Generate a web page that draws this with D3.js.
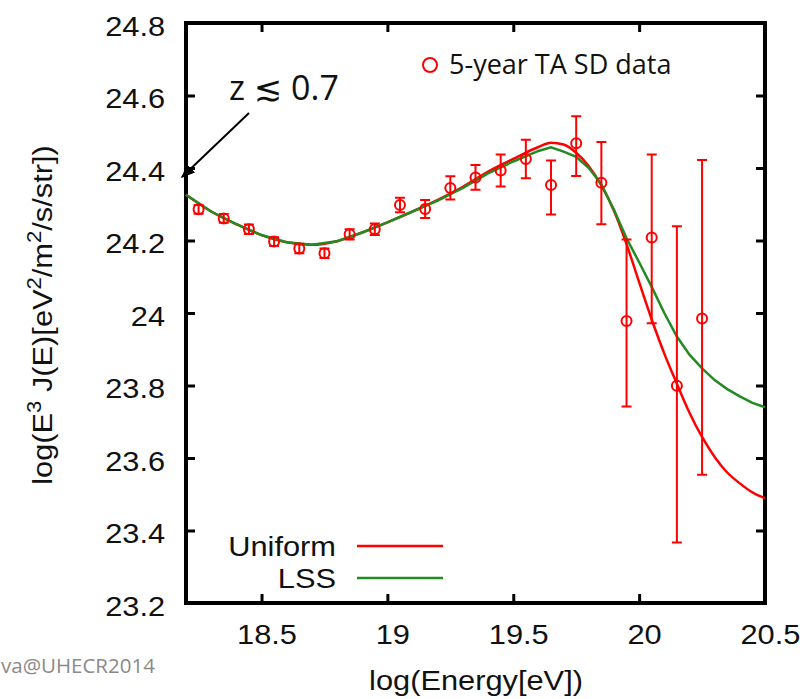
<!DOCTYPE html>
<html>
<head>
<meta charset="utf-8">
<script src="https://cdn.jsdelivr.net/npm/d3@7"></script>
<style>
  body { margin: 0; background: #fff; }
  svg { display: block; }
  .helv { font-family: "Liberation Sans", Arial, sans-serif; }
</style>
</head>
<body>
<svg id="chart" width="809" height="699"></svg>
<script>
// TA SD data points (bin centres, log10 E^3 J(E))
const energy = [18.25, 18.35, 18.45, 18.55, 18.65, 18.75, 18.85, 18.95, 19.05, 19.15,
  19.25, 19.35, 19.45, 19.55, 19.65, 19.75, 19.85, 19.95, 20.05, 20.15, 20.25];
const flux = [24.286, 24.261, 24.231, 24.197, 24.178, 24.165, 24.217, 24.231, 24.298, 24.287,
  24.345, 24.374, 24.393, 24.425, 24.353, 24.468, 24.359, 23.978, 24.208, 23.799, 23.985];
const errLow = [0.012, 0.012, 0.013, 0.012, 0.013, 0.013, 0.014, 0.016, 0.02, 0.025,
  0.032, 0.034, 0.044, 0.053, 0.081, 0.09, 0.114, 0.236, 0.236, 0.432, 0.431];
const errHigh = [0.012, 0.012, 0.013, 0.012, 0.013, 0.013, 0.014, 0.016, 0.02, 0.025,
  0.032, 0.034, 0.044, 0.053, 0.068, 0.075, 0.113, 0.225, 0.229, 0.44, 0.437];

// model curves
const curveX = [18.2, 18.3, 18.4, 18.5, 18.6, 18.7, 18.8, 18.9, 19.0, 19.1, 19.2, 19.3, 19.4,
  19.5, 19.6, 19.65, 19.7, 19.75, 19.8, 19.85, 19.9, 19.95, 20.0, 20.05, 20.1, 20.15, 20.2,
  20.25, 20.3, 20.35, 20.4, 20.45, 20.5];
const uniform = [24.326, 24.28, 24.245, 24.215, 24.195, 24.188, 24.198, 24.222, 24.25, 24.28,
  24.312, 24.348, 24.39, 24.425, 24.458, 24.470, 24.465, 24.442, 24.405, 24.352, 24.282, 24.19,
  24.085, 23.982, 23.888, 23.805, 23.725, 23.658, 23.603, 23.56, 23.53, 23.505, 23.489];
const lss = [24.326, 24.28, 24.245, 24.215, 24.195, 24.188, 24.198, 24.222, 24.25, 24.28,
  24.31, 24.345, 24.385, 24.418, 24.447, 24.457, 24.445, 24.431, 24.40, 24.355, 24.285, 24.206,
  24.14, 24.072, 24.0, 23.935, 23.885, 23.847, 23.815, 23.79, 23.77, 23.752, 23.74];

const xTicks = [18.5, 19, 19.5, 20, 20.5];
const yTicks = [23.2, 23.4, 23.6, 23.8, 24, 24.2, 24.4, 24.6, 24.8];

const RED = "#ff0000";
const GREEN = "#228b22";
const STRETCH = "scale(1.1,1)";

const plotL = 186, plotR = 765, plotT = 23, plotB = 603;
const svg = d3.select("#chart");

const x = d3.scaleLinear().domain([18.2, 20.5]).range([plotL, plotR]);
const y = d3.scaleLinear().domain([23.2, 24.8]).range([plotB, plotT]);
const fmt = (d) => String(+d.toFixed(1));

// axes with inward ticks
svg.append("g")
  .attr("class", "helv")
  .attr("transform", "translate(0," + plotB + ")")
  .call(d3.axisBottom(x).tickValues(xTicks).tickFormat(fmt).tickSizeInner(-9).tickSizeOuter(0).tickPadding(21))
  .call((g) => g.select(".domain").remove())
  .call((g) => g.selectAll("line").attr("stroke-width", 3))
  .call((g) => g.selectAll("text").attr("font-size", 28).attr("fill", "#111")
    .attr("transform", STRETCH).attr("dx", 4.5));

svg.append("g")
  .attr("transform", "translate(0," + plotT + ")")
  .call(d3.axisTop(x).tickValues(xTicks).tickFormat("").tickSizeInner(-9).tickSizeOuter(0))
  .call((g) => g.select(".domain").remove())
  .call((g) => g.selectAll("line").attr("stroke-width", 3));

svg.append("g")
  .attr("class", "helv")
  .attr("transform", "translate(" + plotL + ",0)")
  .call(d3.axisLeft(y).tickValues(yTicks).tickFormat(fmt).tickSizeInner(-9).tickSizeOuter(0).tickPadding(19))
  .call((g) => g.select(".domain").remove())
  .call((g) => g.selectAll("line").attr("stroke-width", 3))
  .call((g) => g.selectAll("text").attr("font-size", 28).attr("fill", "#111")
    .attr("transform", STRETCH).attr("dy", "0.43em"));

svg.append("g")
  .attr("transform", "translate(" + plotR + ",0)")
  .call(d3.axisRight(y).tickValues(yTicks).tickFormat("").tickSizeInner(-9).tickSizeOuter(0))
  .call((g) => g.select(".domain").remove())
  .call((g) => g.selectAll("line").attr("stroke-width", 3));

// frame
svg.append("rect")
  .attr("x", plotL).attr("y", plotT)
  .attr("width", plotR - plotL).attr("height", plotB - plotT)
  .attr("fill", "none").attr("stroke", "#000").attr("stroke-width", 4);

// model curves
const uniLine = d3.line().x((d, i) => x(curveX[i])).y((d) => y(d)).curve(d3.curveMonotoneX);
const lssLine = d3.line().x((d, i) => x(curveX[i])).y((d) => y(d));

svg.append("path").datum(uniform)
  .attr("d", uniLine).attr("fill", "none").attr("stroke", RED).attr("stroke-width", 2.5);
svg.append("path").datum(lss)
  .attr("d", lssLine).attr("fill", "none").attr("stroke", GREEN).attr("stroke-width", 2.5);

// data with error bars
const pts = energy.map((e, i) => ({ e: e, v: flux[i], lo: flux[i] - errLow[i], hi: flux[i] + errHigh[i] }));
const cap = 5;
const bars = svg.append("g").attr("stroke", RED).attr("stroke-width", 2).attr("fill", "none");
bars.selectAll(".eb").data(pts).enter().append("path")
  .attr("d", (d) => {
    const cx = x(d.e), y0 = y(d.lo), y1 = y(d.hi);
    return "M" + cx + "," + y0 + "V" + y1 +
      "M" + (cx - cap) + "," + y1 + "H" + (cx + cap) +
      "M" + (cx - cap) + "," + y0 + "H" + (cx + cap);
  });
bars.selectAll("circle").data(pts).enter().append("circle")
  .attr("cx", (d) => x(d.e)).attr("cy", (d) => y(d.v)).attr("r", 5);

// legend: data
svg.append("circle").attr("cx", 430).attr("cy", 65).attr("r", 7)
  .attr("fill", "none").attr("stroke", RED).attr("stroke-width", 2);
svg.append("text").attr("x", 449).attr("y", 74)
  .attr("font-family", "'Open Sans', sans-serif").attr("font-size", 27).attr("fill", "#111")
  .text("5-year TA SD data");

// legend: models
const models = [{ name: "Uniform", color: RED, yy: 546 }, { name: "LSS", color: GREEN, yy: 578 }];
models.forEach((m) => {
  svg.append("text").attr("class", "helv")
    .attr("x", 336 / 1.1).attr("y", m.yy + 10)
    .attr("transform", STRETCH)
    .attr("text-anchor", "end").attr("font-size", 28).attr("fill", "#111")
    .text(m.name);
  svg.append("line").attr("x1", 357).attr("x2", 443).attr("y1", m.yy).attr("y2", m.yy)
    .attr("stroke", m.color).attr("stroke-width", 2.5);
});

// annotation arrow
svg.append("defs").append("marker")
  .attr("id", "head").attr("viewBox", "0 0 10 10").attr("refX", 9).attr("refY", 5)
  .attr("markerWidth", 14).attr("markerHeight", 14).attr("markerUnits", "userSpaceOnUse")
  .attr("orient", "auto")
  .append("path").attr("d", "M0,1L10,5L0,9z").attr("fill", "#000");
svg.append("line")
  .attr("x1", 249).attr("y1", 113).attr("x2", x(18.2) - 4).attr("y2", y(24.375))
  .attr("stroke", "#000").attr("stroke-width", 2).attr("marker-end", "url(#head)");
svg.append("text").attr("x", 229).attr("y", 100)
  .attr("font-family", "'Open Sans', 'DejaVu Sans', sans-serif").attr("font-size", 34).attr("fill", "#111")
  .text("z \u2272 0.7");

// axis titles
svg.append("text").attr("class", "helv")
  .attr("transform", "translate(476,690) " + STRETCH)
  .attr("text-anchor", "middle").attr("font-size", 28).attr("fill", "#111")
  .text("log(Energy[eV])");

const yl = svg.append("text").attr("class", "helv")
  .attr("transform", "translate(52,315) rotate(-90) " + STRETCH)
  .attr("text-anchor", "middle").attr("font-size", 28).attr("fill", "#111");
yl.append("tspan").text("log(E");
yl.append("tspan").attr("font-size", 20).attr("dy", -11).text("3");
yl.append("tspan").attr("dy", 11).text(" J(E)[eV");
yl.append("tspan").attr("font-size", 20).attr("dy", -11).text("2");
yl.append("tspan").attr("dy", 11).text("/m");
yl.append("tspan").attr("font-size", 20).attr("dy", -11).text("2");
yl.append("tspan").attr("dy", 11).text("/s/str])");

// credit text at the bottom-left corner
svg.append("text").attr("x", 1).attr("y", 673)
  .attr("font-family", "'Open Sans', sans-serif").attr("font-size", 20.5).attr("fill", "#8a8a8a")
  .text("va@UHECR2014");
</script>
</body>
</html>
